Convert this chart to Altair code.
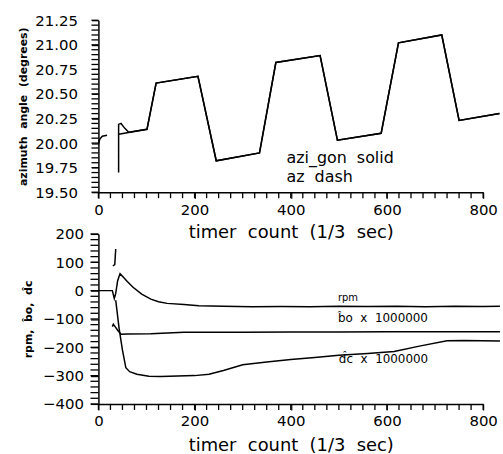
import altair as alt
import pandas as pd

# ---------------- data ----------------
# top panel: azimuth angle (degrees) vs timer count
azi_gon_x = [42, 101, 120, 207, 245, 335, 369, 461, 497, 588, 624, 714, 750, 834]
azi_gon_y = [20.09, 20.14, 20.61, 20.68, 19.82, 19.90, 20.82, 20.89, 20.03, 20.10, 21.02, 21.10, 20.23, 20.30]

az_a_x = [0, 3, 8, 18]
az_a_y = [19.99, 20.04, 20.07, 20.08]
az_b_x = [42, 42, 47, 55, 63, 101, 120, 207, 245, 335, 369, 461, 497, 588, 624, 714, 750, 834]
az_b_y = [19.70, 20.19, 20.20, 20.15, 20.11, 20.14, 20.61, 20.68, 19.82, 19.90, 20.82, 20.89, 20.03, 20.10, 21.02, 21.10, 20.23, 20.30]

# bottom panel: rpm, bo x 1e6, dc x 1e6
rpm_x = [0, 29, 33, 36, 40, 45, 52, 60, 72, 90, 109, 125, 143, 178, 209, 260, 320, 380, 440, 500, 560, 620, 680, 740, 800, 835]
rpm_y = [0, 0, -28, -10, 35, 60, 47, 32, 12, -12, -30, -39, -45, -49, -53, -55, -57, -56, -57, -55, -56, -55, -57, -55, -56, -55]

bo_x = [29, 31, 35, 40, 47, 60, 109, 178, 300, 400, 500, 600, 700, 835]
bo_y = [-127, -119, -128, -140, -154, -153, -152, -147, -147, -146, -146, -145, -145, -145]

dc_a_x = [30, 34, 36]
dc_a_y = [87, 92, 147]
dc_b_x = [36, 43, 50, 57, 65, 80, 105, 130, 200, 230, 260, 300, 350, 400, 450, 500, 560, 615, 670, 725, 760, 835]
dc_b_y = [-34, -133, -210, -272, -286, -295, -302, -303, -300, -295, -282, -262, -252, -243, -236, -228, -222, -215, -195, -177, -176, -178]

top_notes = ["azi_gon\u00a0\u00a0solid", "az\u00a0\u00a0dash"]
bot_notes = ["rpm", "b\u0302o\u00a0\u00a0x\u00a0\u00a01000000", "d\u0302c\u00a0\u00a0x\u00a0\u00a01000000"]

# axis ticks / labels
x_major = [0, 200, 400, 600, 800]
x_minor = list(range(0, 801, 25))
top_y_major = [19.50, 19.75, 20.00, 20.25, 20.50, 20.75, 21.00, 21.25]
top_y_minor = [round(19.5 + 0.05 * i, 2) for i in range(36)]
bot_y_major = [-400, -300, -200, -100, 0, 100, 200]
bot_y_minor = list(range(-400, 201, 20))

FONT = "DejaVu Sans"
XTITLE = "timer\u00a0\u00a0count\u00a0\u00a0(1/3\u00a0\u00a0sec)"
TOP_H, BOT_H, W = 173, 171, 387
TOP_DOM, BOT_DOM, X_DOM = [19.5, 21.25], [-400, 200], [0, 800]


def seg_df(pairs):
    rows = []
    for name, xs, ys in pairs:
        for i, (xv, yv) in enumerate(zip(xs, ys)):
            rows.append({"seg": name, "x": xv, "y": yv, "idx": i})
    return pd.DataFrame(rows)


def minor_tick_df(ydom, yvals, height, xlen_px, ylen_px):
    # short two-point segments at the minor tick values (tick length is a style in pixels,
    # converted into data units of each scale)
    dx = xlen_px * (X_DOM[1] - X_DOM[0]) / W
    dy = ylen_px * (ydom[1] - ydom[0]) / height
    rows = []
    for v in x_minor:
        rows += [{"seg": f"xt{v}", "x": v, "y": ydom[0], "idx": 0},
                 {"seg": f"xt{v}", "x": v, "y": ydom[0] - dy, "idx": 1}]
    for v in yvals:
        rows += [{"seg": f"yt{v}", "x": X_DOM[0], "y": v, "idx": 0},
                 {"seg": f"yt{v}", "x": X_DOM[0] - dx, "y": v, "idx": 1}]
    return pd.DataFrame(rows)


top_df = seg_df([("azi_gon", azi_gon_x, azi_gon_y), ("az_a", az_a_x, az_a_y), ("az_b", az_b_x, az_b_y)])
bot_df = seg_df([("rpm", rpm_x, rpm_y), ("bo", bo_x, bo_y), ("dc_a", dc_a_x, dc_a_y), ("dc_b", dc_b_x, dc_b_y)])
top_ticks = minor_tick_df(TOP_DOM, top_y_minor, TOP_H, 7, 6)
bot_ticks = minor_tick_df(BOT_DOM, bot_y_minor, BOT_H, 8, 6)

top_note_df = pd.DataFrame({"x": [391, 391], "y": [19.845, 19.655], "t": top_notes})
bot_note_df = pd.DataFrame({"x": [498, 498, 500], "y": [-25, -98, -240], "t": bot_notes,
                            "s": [10, 12, 12]})

XSCALE = alt.Scale(domain=X_DOM, nice=False, zero=False)


def major_x(title_y):
    return alt.X("x:Q", scale=XSCALE,
                 axis=alt.Axis(orient="bottom", values=x_major, format="d",
                               title=XTITLE, titleFont=FONT, titleFontSize=18, titleFontWeight="normal",
                               titleBaseline="middle", titleY=title_y, labelPadding=4, tickSize=6,
                               labelFlush=False, labelOverlap=False))


# ---------------- top panel ----------------
TOP_Y = alt.Scale(domain=TOP_DOM, nice=False, zero=False)
top_y_axis = alt.Y("y:Q", scale=TOP_Y,
                   axis=alt.Axis(orient="left", values=top_y_major, format=".2f",
                                 title="azimuth\u00a0\u00a0angle\u00a0\u00a0(degrees)", titleFont=FONT,
                                 titleFontSize=11, titleFontWeight="bold", titleBaseline="middle",
                                 titleX=-75, labelPadding=14, tickSize=7, labelOverlap=False,
                                 labelFlush=False))

top_lines = alt.Chart(top_df).mark_line(color="black", strokeWidth=1.5).encode(
    x=major_x(41), y=top_y_axis, detail="seg:N", order=alt.Order("idx:Q")
)
top_tick_marks = alt.Chart(top_ticks).mark_line(color="black", strokeWidth=1.3).encode(
    x=alt.X("x:Q", scale=XSCALE, axis=None), y=alt.Y("y:Q", scale=TOP_Y, axis=None),
    detail="seg:N", order=alt.Order("idx:Q"))
top_text = alt.Chart(top_note_df).mark_text(align="left", baseline="middle", font=FONT, fontSize=16,
                                            color="black").encode(
    x=alt.X("x:Q", scale=XSCALE, axis=None), y=alt.Y("y:Q", scale=TOP_Y, axis=None), text="t:N")

top = alt.layer(top_lines, top_tick_marks, top_text).resolve_axis(
    x="independent", y="independent").properties(width=W, height=TOP_H)

# ---------------- bottom panel ----------------
BOT_Y = alt.Scale(domain=BOT_DOM, nice=False, zero=False)
bot_y_axis = alt.Y("y:Q", scale=BOT_Y,
                   axis=alt.Axis(orient="left", values=bot_y_major, format="d",
                                 title="rpm,\u00a0\u00a0b\u0302o,\u00a0\u00a0d\u0302c", titleFont=FONT,
                                 titleFontSize=11, titleFontWeight="bold", titleBaseline="middle",
                                 titleX=-70, labelPadding=7, tickSize=8, labelOverlap=False,
                                 labelFlush=False))

bot_lines = alt.Chart(bot_df).mark_line(color="black", strokeWidth=1.5).encode(
    x=major_x(42), y=bot_y_axis, detail="seg:N", order=alt.Order("idx:Q")
)
bot_tick_marks = alt.Chart(bot_ticks).mark_line(color="black", strokeWidth=1.3).encode(
    x=alt.X("x:Q", scale=XSCALE, axis=None), y=alt.Y("y:Q", scale=BOT_Y, axis=None),
    detail="seg:N", order=alt.Order("idx:Q"))
bot_text = alt.Chart(bot_note_df).mark_text(align="left", baseline="middle", font=FONT,
                                            color="black").encode(
    x=alt.X("x:Q", scale=XSCALE, axis=None), y=alt.Y("y:Q", scale=BOT_Y, axis=None), text="t:N",
    size=alt.Size("s:Q", scale=None, legend=None))

bottom = alt.layer(bot_lines, bot_tick_marks, bot_text).resolve_axis(
    x="independent", y="independent").properties(width=W, height=BOT_H)

chart = alt.vconcat(top, bottom, spacing=42, bounds="flush").properties(
    padding={"left": 17, "top": 12, "right": 0, "bottom": 0},
    background="white",
).configure_view(stroke=None).configure_axis(
    grid=False, labelFont=FONT, labelFontSize=15, labelColor="black", titleColor="black",
    domainColor="black", tickColor="black", domainWidth=1.5, tickWidth=1.2
)

chart.save("out.html", embed_options={"renderer": "svg", "actions": False})
